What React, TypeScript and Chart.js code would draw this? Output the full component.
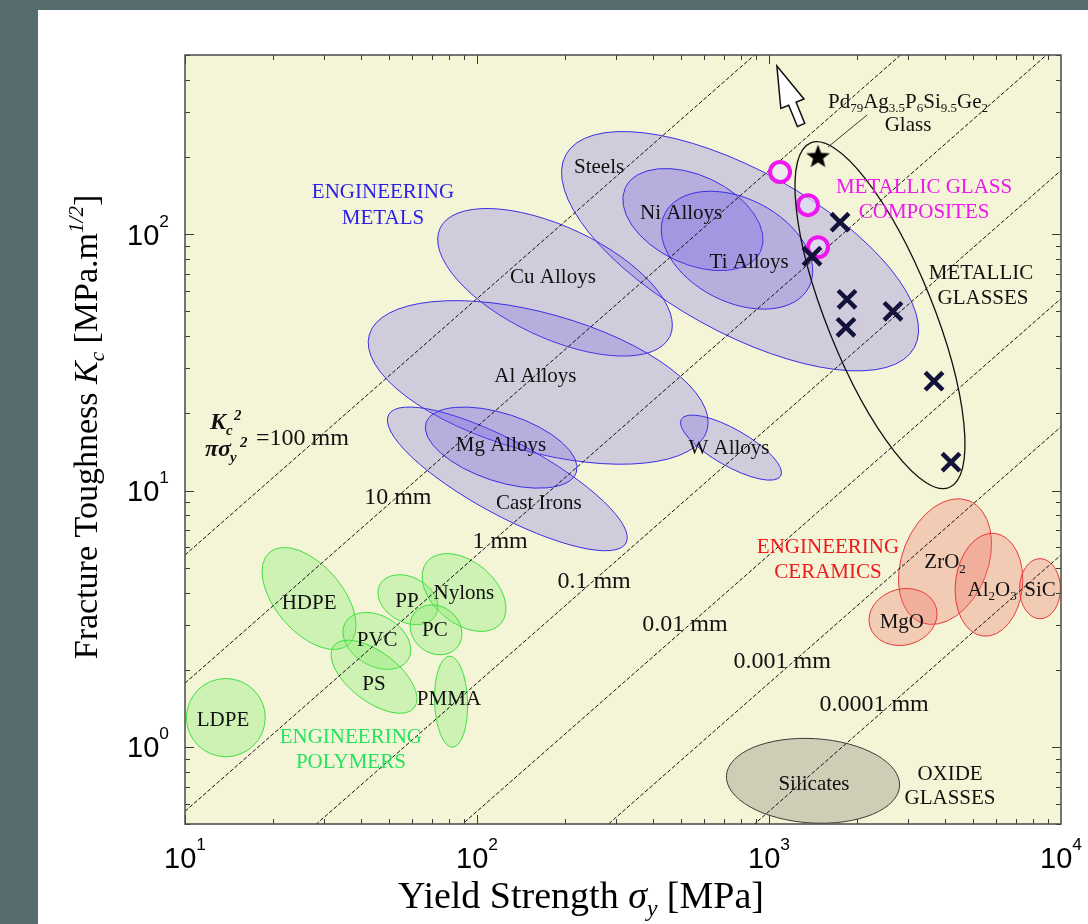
import React, { useEffect, useRef } from 'react';
import { Chart, registerables } from 'chart.js';

Chart.register(...registerables);

// ---------------- data ----------------
// crack-size guide lines K^2 / (pi sigma^2) = d
const crackLengthsMm = [100, 10, 1, 0.1, 0.01, 0.001, 0.0001];

// material property regions (centre sigma_y [MPa], centre K_c [MPa m^1/2], half-spans in decades, tilt)
const regionNames = [
  'Steels', 'Cu Alloys', 'Al Alloys', 'Cast Irons', 'Mg Alloys', 'W Alloys', 'Ni Alloys', 'Ti Alloys',
  'HDPE', 'PVC', 'PS', 'PP', 'Nylons', 'PC', 'PMMA', 'LDPE',
  'ZrO2', 'Al2O3', 'SiC', 'MgO',
  'Silicates',
];
const regionGroups = [
  'metal', 'metal', 'metal', 'metal', 'metal', 'metal', 'metal', 'metal',
  'polymer', 'polymer', 'polymer', 'polymer', 'polymer', 'polymer', 'polymer', 'polymer',
  'ceramic', 'ceramic', 'ceramic', 'ceramic',
  'glass',
];
const regionSigma = [796, 185, 162, 127, 121, 741, 549, 777, 26.6, 45.4, 44.4, 58.0, 90.3, 72.4, 81.5, 13.8, 4006, 5667, 8475, 2877, 1415];
const regionK = [85.8, 64.9, 26.4, 11.1, 14.7, 14.7, 114, 86.6, 3.79, 2.59, 1.877, 3.75, 4.0, 2.86, 1.50, 1.30, 5.28, 4.29, 4.14, 3.21, 0.737];
const regionMajorDec = [0.682, 0.435, 0.601, 0.462, 0.271, 0.196, 0.256, 0.277, 0.208, 0.125, 0.174, 0.109, 0.165, 0.094, 0.156, 0.135, 0.224, 0.177, 0.103, 0.118, 0.297];
const regionMinorDec = [0.277, 0.19, 0.237, 0.126, 0.116, 0.063, 0.151, 0.177, 0.115, 0.0863, 0.0846, 0.0774, 0.106, 0.08, 0.0565, 0.134, 0.147, 0.115, 0.07, 0.096, 0.1445];
const regionTiltDeg = [29, 25.2, 15.7, 28.4, 18.2, 29.7, 25.3, 27.1, 49.4, 30.3, 37.4, 28.4, 39.9, 38, 88, 0, -68.6, -83.6, 90, -15.3, 3.5];

// metallic glass envelope
const envelopeSigma = [2399];
const envelopeK = [48.3];
const envelopeMajorDec = [0.636];
const envelopeMinorDec = [0.182];
const envelopeTiltDeg = [68.1];

// metallic glasses (crosses)
const bmgSigma = [1751, 1404, 1850, 1835, 2658, 3674, 4201];
const bmgK = [111.4, 82.0, 55.7, 43.3, 50.0, 26.7, 12.9];
// metallic glass composites (circles)
const compositeSigma = [1091, 1360, 1472];
const compositeK = [174.7, 129.8, 89.0];
// Pd79Ag3.5P6Si9.5Ge2 glass (star)
const pdGlassSigma = [1472];
const pdGlassK = [201.7];

const xTickExponents = [1, 2, 3, 4];
const yTickExponents = [0, 1, 2];

// ---------------- styles ----------------
const SERIF = '"Liberation Serif", "Times New Roman", serif';
const SANS = '"Liberation Sans", Arial, sans-serif';
const BLUE = '#2a1ee6';
const GREEN = '#27e35c';
const RED = '#ee1a1a';
const MAGENTA = '#ee18ee';
const INK = '#111111';

const GROUP_STYLE: Record<string, { fill: string; edge: string }> = {
  metal: { fill: 'rgba(100,80,235,0.24)', edge: '#3a2ee6' },
  polymer: { fill: 'rgba(120,235,100,0.30)', edge: '#40e040' },
  ceramic: { fill: 'rgba(240,110,100,0.30)', edge: '#e83a3a' },
  glass: { fill: 'rgba(120,120,110,0.30)', edge: '#3c3c3c' },
};

type Seg = { t: string; it?: boolean; bold?: boolean; sc?: number; dy?: number };
const T = (t: string): Seg => ({ t });
const SUB = (t: string): Seg => ({ t, sc: 0.62, dy: 0.22 });

type Note = { segs: Seg[]; at: [number, number]; size: number; color: string; align?: 'center' | 'left' };
// positions given as [log10 sigma, log10 K] of the text centre
const notes: Note[] = [
  { segs: [T('ENGINEERING')], at: [1.678, 2.168], size: 21, color: BLUE },
  { segs: [T('METALS')], at: [1.678, 2.066], size: 21, color: BLUE },
  { segs: [T('Steels')], at: [2.418, 2.266], size: 21, color: INK },
  { segs: [T('Ni Alloys')], at: [2.699, 2.086], size: 21, color: INK },
  { segs: [T('Ti Alloys')], at: [2.932, 1.895], size: 21, color: INK },
  { segs: [T('Cu Alloys')], at: [2.26, 1.836], size: 21, color: INK },
  { segs: [T('Al Alloys')], at: [2.2, 1.449], size: 21, color: INK },
  { segs: [T('Mg Alloys')], at: [2.082, 1.18], size: 21, color: INK },
  { segs: [T('Cast Irons')], at: [2.212, 0.953], size: 21, color: INK },
  { segs: [T('W Alloys')], at: [2.863, 1.168], size: 21, color: INK },
  { segs: [T('HDPE')], at: [1.425, 0.566], size: 21, color: INK },
  { segs: [T('PP')], at: [1.76, 0.574], size: 21, color: INK },
  { segs: [T('Nylons')], at: [1.955, 0.605], size: 21, color: INK },
  { segs: [T('PVC')], at: [1.658, 0.422], size: 21, color: INK },
  { segs: [T('PC')], at: [1.856, 0.461], size: 21, color: INK },
  { segs: [T('PS')], at: [1.647, 0.25], size: 21, color: INK },
  { segs: [T('PMMA')], at: [1.904, 0.191], size: 21, color: INK },
  { segs: [T('LDPE')], at: [1.13, 0.109], size: 21, color: INK },
  { segs: [T('ENGINEERING')], at: [1.568, 0.043], size: 21, color: GREEN },
  { segs: [T('POLYMERS')], at: [1.568, -0.055], size: 21, color: GREEN },
  { segs: [T('ENGINEERING')], at: [3.202, 0.785], size: 21, color: RED },
  { segs: [T('CERAMICS')], at: [3.202, 0.6875], size: 21, color: RED },
  { segs: [T('ZrO'), SUB('2')], at: [3.603, 0.723], size: 21, color: INK },
  { segs: [T('Al'), SUB('2'), T('O'), SUB('3')], at: [3.764, 0.617], size: 21, color: INK },
  { segs: [T('SiC')], at: [3.928, 0.617], size: 21, color: INK },
  { segs: [T('MgO')], at: [3.455, 0.492], size: 21, color: INK },
  { segs: [T('Silicates')], at: [3.154, -0.141], size: 21, color: INK },
  { segs: [T('OXIDE')], at: [3.62, -0.102], size: 21, color: INK },
  { segs: [T('GLASSES')], at: [3.62, -0.195], size: 21, color: INK },
  { segs: [T('METALLIC GLASS')], at: [3.531, 2.1875], size: 21, color: MAGENTA },
  { segs: [T('COMPOSITES')], at: [3.531, 2.09], size: 21, color: MAGENTA },
  { segs: [T('METALLIC')], at: [3.726, 1.852], size: 21, color: INK },
  { segs: [T('GLASSES')], at: [3.733, 1.754], size: 21, color: INK },
  {
    segs: [T('Pd'), SUB('79'), T('Ag'), SUB('3.5'), T('P'), SUB('6'), T('Si'), SUB('9.5'), T('Ge'), SUB('2')],
    at: [3.476, 2.52], size: 21, color: INK,
  },
  { segs: [T('Glass')], at: [3.476, 2.43], size: 21, color: INK },
  { segs: [T('10 mm')], at: [1.729, 0.977], size: 24, color: INK },
  { segs: [T('1 mm')], at: [2.079, 0.805], size: 24, color: INK },
  { segs: [T('0.1 mm')], at: [2.401, 0.652], size: 24, color: INK },
  { segs: [T('0.01 mm')], at: [2.712, 0.484], size: 24, color: INK },
  { segs: [T('0.001 mm')], at: [3.045, 0.34], size: 24, color: INK },
  { segs: [T('0.0001 mm')], at: [3.36, 0.172], size: 24, color: INK },
];
const fractionAnchor: [number, number] = [1.243, 1.207];
const arrowTail: [number, number] = [3.11, 2.426];
const arrowTip: [number, number] = [3.027, 2.656];
const leaderFrom: [number, number] = [3.336, 2.465];
const leaderTo: [number, number] = [3.202, 2.34];

// ---------------- drawing helpers ----------------
function fontOf(s: Seg, size: number, family: string) {
  const px = Math.round(size * (s.sc ?? 1) * 10) / 10;
  return `${s.it ? 'italic ' : ''}${s.bold ? 'bold ' : ''}${px}px ${family}`;
}
function drawRich(
  ctx: CanvasRenderingContext2D, segs: Seg[], x: number, baseline: number, size: number,
  family: string, color: string, align: 'center' | 'left' | 'right' = 'center',
) {
  let w = 0;
  for (const s of segs) { ctx.font = fontOf(s, size, family); w += ctx.measureText(s.t).width; }
  let cx = align === 'center' ? x - w / 2 : align === 'right' ? x - w : x;
  ctx.fillStyle = color;
  ctx.textAlign = 'left';
  ctx.textBaseline = 'alphabetic';
  for (const s of segs) {
    ctx.font = fontOf(s, size, family);
    ctx.fillText(s.t, cx, baseline + (s.dy ?? 0) * size);
    cx += ctx.measureText(s.t).width;
  }
}

function makeStar(r: number) {
  const c = document.createElement('canvas');
  c.width = c.height = Math.ceil(2 * r + 2);
  const g = c.getContext('2d')!;
  g.translate(c.width / 2, c.height / 2 + 1);
  g.beginPath();
  for (let i = 0; i < 10; i++) {
    const rr = i % 2 === 0 ? r : r * 0.42;
    const a = -Math.PI / 2 + (i * Math.PI) / 5;
    g.lineTo(rr * Math.cos(a), rr * Math.sin(a));
  }
  g.closePath();
  g.fillStyle = '#000';
  g.fill();
  return c;
}

const backgroundPlugin = {
  id: 'panelBackground',
  beforeDraw(chart: any) {
    const { ctx, chartArea: a, width, height } = chart;
    ctx.save();
    ctx.fillStyle = '#566c6e';
    ctx.fillRect(0, 0, width, height);
    ctx.fillStyle = '#ffffff';
    ctx.fillRect(38, 10, width - 38, height - 10);
    ctx.fillStyle = '#f4f4d7';
    ctx.fillRect(a.left, a.top, a.right - a.left, a.bottom - a.top);
    ctx.restore();
  },
};

function ellipsePath(chart: any, s: number, k: number, maj: number, min: number, tilt: number) {
  const { ctx, scales: { x, y } } = chart;
  const dec = x.getPixelForValue(100) - x.getPixelForValue(10);
  ctx.beginPath();
  ctx.ellipse(x.getPixelForValue(s), y.getPixelForValue(k), maj * dec, min * dec, (tilt * Math.PI) / 180, 0, Math.PI * 2);
}

const regionsPlugin = {
  id: 'regions',
  beforeDatasetsDraw(chart: any) {
    const { ctx, chartArea: a } = chart;
    ctx.save();
    ctx.beginPath();
    ctx.rect(a.left, a.top, a.right - a.left, a.bottom - a.top);
    ctx.clip();
    regionNames.forEach((_, i) => {
      const st = GROUP_STYLE[regionGroups[i]];
      ellipsePath(chart, regionSigma[i], regionK[i], regionMajorDec[i], regionMinorDec[i], regionTiltDeg[i]);
      ctx.fillStyle = st.fill;
      ctx.fill();
      ctx.strokeStyle = st.edge;
      ctx.lineWidth = 1;
      ctx.stroke();
    });
    ctx.restore();
  },
};

const overlayPlugin = {
  id: 'overlay',
  afterDatasetsDraw(chart: any) {
    const { ctx, chartArea: a, scales: { x, y } } = chart;
    const P = (p: [number, number]) => [x.getPixelForValue(10 ** p[0]), y.getPixelForValue(10 ** p[1])];
    ctx.save();
    ctx.beginPath();
    ctx.rect(a.left, a.top, a.right - a.left, a.bottom - a.top);
    ctx.clip();

    // metallic glass envelope
    envelopeSigma.forEach((s, i) => {
      ellipsePath(chart, s, envelopeK[i], envelopeMajorDec[i], envelopeMinorDec[i], envelopeTiltDeg[i]);
      ctx.strokeStyle = '#111';
      ctx.lineWidth = 1.3;
      ctx.stroke();
    });

    // leader line
    const [lx0, ly0] = P(leaderFrom);
    const [lx1, ly1] = P(leaderTo);
    ctx.beginPath();
    ctx.moveTo(lx0, ly0);
    ctx.lineTo(lx1, ly1);
    ctx.strokeStyle = '#222';
    ctx.lineWidth = 0.9;
    ctx.stroke();

    // hollow arrow
    const [tx, ty] = P(arrowTail);
    const [px, py] = P(arrowTip);
    const len = Math.hypot(px - tx, py - ty);
    const ux = (px - tx) / len, uy = (py - ty) / len;
    const nx = -uy, ny = ux;
    const head = len * 0.64, hw = 12.5, sw = 4;
    const bx = px - ux * head, by = py - uy * head;
    ctx.beginPath();
    ctx.moveTo(px, py);
    ctx.lineTo(bx + nx * hw, by + ny * hw);
    ctx.lineTo(bx + nx * sw, by + ny * sw);
    ctx.lineTo(tx + nx * sw, ty + ny * sw);
    ctx.lineTo(tx - nx * sw, ty - ny * sw);
    ctx.lineTo(bx - nx * sw, by - ny * sw);
    ctx.lineTo(bx - nx * hw, by - ny * hw);
    ctx.closePath();
    ctx.fillStyle = '#ffffff';
    ctx.fill();
    ctx.strokeStyle = '#111';
    ctx.lineWidth = 1.5;
    ctx.stroke();
    ctx.restore();

    // text annotations
    ctx.save();
    for (const n of notes) {
      const [cx, cy] = P(n.at);
      drawRich(ctx, n.segs, cx, cy + 0.33 * n.size, n.size, SERIF, n.color, n.align ?? 'center');
    }
    // K_c^2 / (pi sigma_y^2) = 100 mm
    const [fx, fy] = P(fractionAnchor);
    const base = fy + 0.33 * 24;
    drawRich(ctx, [T('=100 mm')], fx, base, 24, SERIF, INK, 'left');
    const bi = (t: string, sc = 1): Seg => ({ t, it: true, bold: true, sc });
    drawRich(ctx, [bi('K')], fx - 46, base - 16, 24, SERIF, INK, 'left');
    drawRich(ctx, [bi('c', 0.62)], fx - 30, base - 10, 24, SERIF, INK, 'left');
    drawRich(ctx, [bi('2', 0.62)], fx - 22, base - 25, 24, SERIF, INK, 'left');
    drawRich(ctx, [bi('πσ')], fx - 51, base + 11, 24, SERIF, INK, 'left');
    drawRich(ctx, [bi('y', 0.62)], fx - 26, base + 17, 24, SERIF, INK, 'left');
    drawRich(ctx, [bi('2', 0.62)], fx - 16, base + 2, 24, SERIF, INK, 'left');
    ctx.restore();
  },
  afterDraw(chart: any) {
    const { ctx, chartArea: a, scales: { x, y } } = chart;
    ctx.save();
    // ticks
    ctx.strokeStyle = '#3a3a3a';
    ctx.lineWidth = 1;
    ctx.beginPath();
    for (let e = 1; e <= 3; e++) {
      for (let m = 1; m <= 9; m++) {
        const v = m * 10 ** e;
        const p = Math.round(x.getPixelForValue(v)) + 0.5;
        const L = m === 1 ? 9 : 5;
        ctx.moveTo(p, a.bottom); ctx.lineTo(p, a.bottom - L);
        ctx.moveTo(p, a.top); ctx.lineTo(p, a.top + L);
      }
    }
    for (let e = -1; e <= 2; e++) {
      for (let m = 1; m <= 9; m++) {
        const v = m * 10 ** e;
        if (v < 0.5 || v > 500) continue;
        const p = Math.round(y.getPixelForValue(v)) + 0.5;
        const L = m === 1 ? 9 : 5;
        ctx.moveTo(a.left, p); ctx.lineTo(a.left + L, p);
        ctx.moveTo(a.right, p); ctx.lineTo(a.right - L, p);
      }
    }
    ctx.stroke();
    // frame
    ctx.strokeStyle = '#4a4a4a';
    ctx.lineWidth = 1.5;
    ctx.strokeRect(a.left, a.top, a.right - a.left, a.bottom - a.top);

    // tick labels
    for (const e of xTickExponents) {
      const p = x.getPixelForValue(10 ** e);
      drawRich(ctx, [T('10'), { t: String(e), sc: 0.6, dy: -0.62 }], p, a.bottom + 44, 29, SANS, '#000', 'center');
    }
    for (const e of yTickExponents) {
      const p = y.getPixelForValue(10 ** e);
      drawRich(ctx, [T('10'), { t: String(e), sc: 0.6, dy: -0.62 }], a.left - 16, p + 10.5, 29, SANS, '#000', 'right');
    }

    // axis titles
    drawRich(
      ctx,
      [T('Yield Strength '), { t: 'σ', it: true }, { t: 'y', it: true, sc: 0.62, dy: 0.22 }, T(' [MPa]')],
      581, 908, 38, SERIF, '#000', 'center',
    );
    ctx.translate(97, 427);
    ctx.rotate(-Math.PI / 2);
    drawRich(
      ctx,
      [
        T('Fracture Toughness '), { t: 'K', it: true }, { t: 'c', it: true, sc: 0.62, dy: 0.22 },
        T(' [MPa.m'), { t: '1/2', it: true, sc: 0.62, dy: -0.42 }, T(']'),
      ],
      0, 0, 34, SERIF, '#000', 'center',
    );
    ctx.restore();
  },
};

export default function App() {
  const ref = useRef<HTMLCanvasElement>(null);
  useEffect(() => {
    const canvas = ref.current!;
    const star = makeStar(12.5);
    const lineSets = crackLengthsMm.map((d) => {
      const c = Math.sqrt((Math.PI * d) / 1000);
      return {
        label: `${d} mm`,
        data: [{ x: 10, y: 10 * c }, { x: 10000, y: 10000 * c }],
        showLine: true,
        borderColor: '#111111',
        borderWidth: 1,
        borderDash: [4, 2],
        pointRadius: 0,
        fill: false,
      };
    });
    const chart = new Chart(canvas, {
      type: 'scatter',
      data: {
        datasets: [
          {
            label: 'Pd glass',
            data: pdGlassSigma.map((s, i) => ({ x: s, y: pdGlassK[i] })),
            pointStyle: star as any,
            pointRadius: 12,
          },
          {
            label: 'Metallic glasses',
            data: bmgSigma.map((s, i) => ({ x: s, y: bmgK[i] })),
            pointStyle: 'crossRot',
            pointRadius: 12.5,
            borderWidth: 4.5,
            borderColor: '#12123a',
          },
          {
            label: 'Composites',
            data: compositeSigma.map((s, i) => ({ x: s, y: compositeK[i] })),
            pointStyle: 'circle',
            pointRadius: 10,
            borderWidth: 4,
            borderColor: MAGENTA,
            backgroundColor: 'rgba(235,228,255,0.55)',
          },
          ...lineSets,
        ] as any,
      },
      options: {
        animation: false,
        responsive: false,
        devicePixelRatio: 1,
        events: [],
        layout: { padding: { left: 185, top: 55, right: 27, bottom: 100 } },
        plugins: { legend: { display: false }, tooltip: { enabled: false } },
        scales: {
          x: { type: 'logarithmic', min: 10, max: 10000, display: false },
          y: { type: 'logarithmic', min: 0.5, max: 500, display: false },
        },
      },
      plugins: [backgroundPlugin, regionsPlugin, overlayPlugin],
    });
    return () => chart.destroy();
  }, []);
  return (
    <div style={{ position: 'fixed', left: 0, top: 0, width: 1088, height: 924 }}>
      <canvas ref={ref} width={1088} height={924} style={{ display: 'block', width: 1088, height: 924 }} />
    </div>
  );
}
